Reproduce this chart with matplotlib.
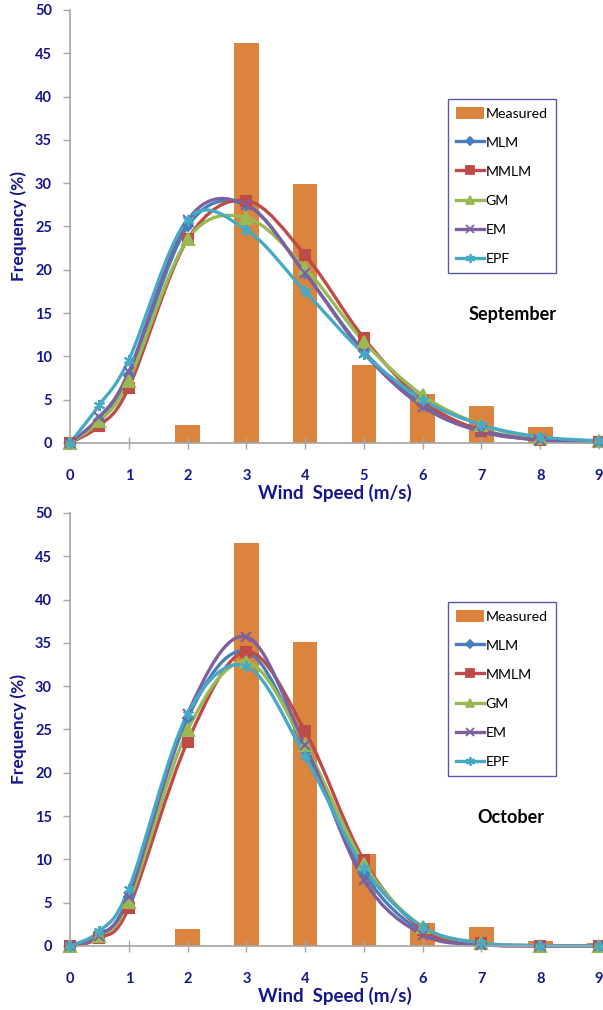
import numpy as np
import matplotlib
matplotlib.use("Agg")
import matplotlib.pyplot as plt
from matplotlib.path import Path
from matplotlib.patches import PathPatch
from matplotlib.lines import Line2D
from matplotlib.patches import Patch

# ---------------- data ----------------
bar_x = [2, 3, 4, 5, 6, 7, 8, 9]
fit_x = [0, 0.5, 1, 2, 3, 4, 5, 6, 7, 8, 9]

sep_measured = [2.1, 46.2, 29.9, 9.0, 5.7, 4.3, 1.8, 0.1]
sep_mlm  = [0, 2.7, 7.8, 25.0, 27.5, 19.6, 10.6, 4.4, 1.5, 0.4, 0.1]
sep_mmlm = [0, 2.0, 6.4, 23.5, 28.0, 21.7, 12.1, 4.9, 1.4, 0.35, 0.1]
sep_gm   = [0, 2.5, 7.2, 23.5, 26.0, 20.2, 11.7, 5.5, 2.1, 0.6, 0.2]
sep_em   = [0, 3.0, 8.2, 25.7, 27.5, 19.6, 10.4, 4.2, 1.3, 0.35, 0.1]
sep_epf  = [0, 4.4, 9.6, 25.8, 24.6, 17.5, 10.3, 5.0, 2.1, 0.7, 0.25]

oct_measured = [2.0, 46.5, 35.1, 10.6, 2.6, 2.2, 0.6, 0.3]
oct_mlm  = [0, 1.2, 5.7, 26.3, 34.0, 22.8, 8.4, 1.6, 0.2, 0.02, 0]
oct_mmlm = [0, 0.9, 4.4, 23.6, 34.0, 24.8, 9.9, 1.9, 0.3, 0.03, 0]
oct_gm   = [0, 1.2, 5.1, 24.9, 32.8, 23.2, 9.5, 2.2, 0.35, 0.04, 0]
oct_em   = [0, 1.2, 5.7, 26.8, 35.7, 23.2, 7.6, 1.3, 0.15, 0.01, 0]
oct_epf  = [0, 1.7, 6.6, 26.8, 32.3, 21.9, 9.0, 2.2, 0.35, 0.04, 0]

y_ticks = [0, 5, 10, 15, 20, 25, 30, 35, 40, 45, 50]
x_ticks = [0, 1, 2, 3, 4, 5, 6, 7, 8, 9]

series_names = ["MLM", "MMLM", "GM", "EM", "EPF"]
series_colors = ["#4A7EBB", "#BE4B48", "#98B954", "#7D60A0", "#46AAC5"]
series_markers = ["D", "s", "^", "x", (6, 2, 0)]
series_msize = [5, 7, 8, 7, 8]
bar_color = "#DB843D"
label_color = "#15158C"
axis_color = "#A6A6A6"

plt.rcParams["font.family"] = ["Lato", "DejaVu Sans"]


def smooth_path(xs, ys):
    """Cubic Bezier path through the points (Catmull-Rom style smoothing)."""
    pts = np.column_stack([xs, ys]).astype(float)
    n = len(pts)
    verts = [pts[0]]
    codes = [Path.MOVETO]
    for i in range(n - 1):
        p0 = pts[i - 1] if i > 0 else pts[i]
        p1 = pts[i]
        p2 = pts[i + 1]
        p3 = pts[i + 2] if i + 2 < n else pts[i + 1]
        c1 = p1 + (p2 - p0) / 6.0
        c2 = p2 - (p3 - p1) / 6.0
        verts += [c1, c2, p2]
        codes += [Path.CURVE4] * 3
    return Path(verts, codes)


def draw_panel(ax, measured, fits, month, month_xy):
    ax.bar(bar_x, measured, width=0.42, color=bar_color, zorder=1)
    for vals, c, m, ms in zip(fits, series_colors, series_markers, series_msize):
        patch = PathPatch(smooth_path(fit_x, vals), facecolor="none",
                          edgecolor=c, lw=2.4, zorder=2, clip_on=False)
        ax.add_patch(patch)
        ax.plot(fit_x, vals, linestyle="none", marker=m, ms=ms, color=c,
                markeredgecolor=c, mew=1.5, zorder=3, clip_on=False)

    ax.set_xlim(0, 9)
    ax.set_ylim(0, 50)
    ax.set_xticks(x_ticks)
    ax.set_yticks(y_ticks)
    for s in ("top", "right"):
        ax.spines[s].set_visible(False)
    for s in ("left", "bottom"):
        ax.spines[s].set_color(axis_color)
        ax.spines[s].set_linewidth(1.2)
    ax.tick_params(axis="x", direction="inout", length=9, width=1,
                   color=axis_color, pad=14)
    ax.tick_params(axis="y", direction="out", length=5, width=1,
                   color=axis_color, pad=8)
    for lab in ax.get_xticklabels() + ax.get_yticklabels():
        lab.set_fontweight("bold")
        lab.set_color(label_color)
        lab.set_fontsize(10.5)
    ax.set_xlabel("Wind  Speed (m/s)", fontsize=13.5, fontweight="bold",
                  color=label_color, labelpad=1)
    ax.set_ylabel("Frequency (%)", fontsize=12.5, fontweight="bold",
                  color=label_color, labelpad=6)

    handles = [Patch(facecolor=bar_color, edgecolor="none")]
    for c, m, ms in zip(series_colors, series_markers, series_msize):
        handles.append(Line2D([], [], color=c, lw=2.4, marker=m,
                              ms=ms * 0.8, mew=1.3))
    leg = ax.legend(handles, ["Measured"] + series_names,
                    loc="upper left", bbox_to_anchor=(0.715, 0.794),
                    frameon=True, fancybox=False, fontsize=10.2,
                    handlelength=1.95, handleheight=0.9, handletextpad=0.15,
                    labelspacing=1.15, borderpad=0.55, borderaxespad=0)
    leg.get_frame().set_edgecolor("#2E2EA0")
    leg.get_frame().set_linewidth(1.0)

    ax.text(month_xy[0], month_xy[1], month, transform=ax.transAxes,
            fontsize=13, fontweight="bold", color="black",
            ha="center", va="center")


fig = plt.figure(figsize=(6.03, 10.10), dpi=100)
ax1 = fig.add_axes([0.1161, 0.5614, 0.8773, 0.4287])
ax2 = fig.add_axes([0.1161, 0.0634, 0.8773, 0.4287])

draw_panel(ax1, sep_measured, [sep_mlm, sep_mmlm, sep_gm, sep_em, sep_epf],
           "September", (0.8365, 0.297))
draw_panel(ax2, oct_measured, [oct_mlm, oct_mmlm, oct_gm, oct_em, oct_epf],
           "October", (0.834, 0.297))

fig.savefig("out.png", dpi=100)
